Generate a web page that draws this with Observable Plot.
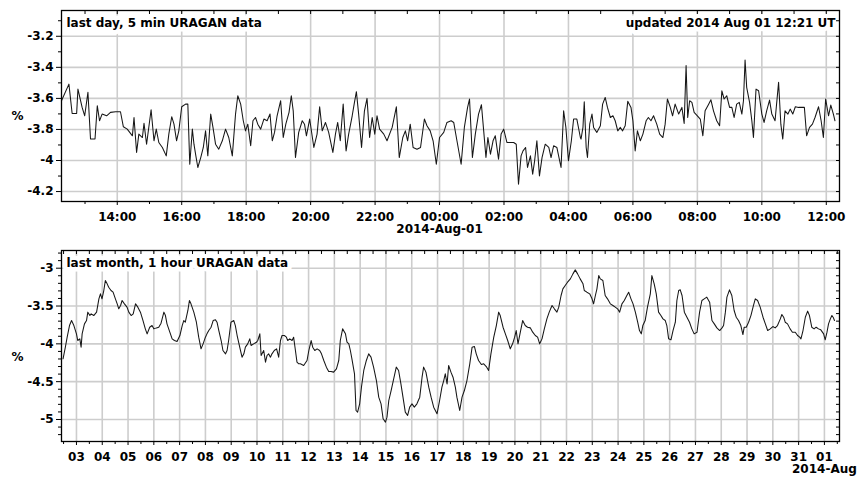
<!DOCTYPE html>
<html><head><meta charset="utf-8">
<script src="https://cdn.jsdelivr.net/npm/d3@7"></script>
<script src="https://cdn.jsdelivr.net/npm/@observablehq/plot@0.6"></script>
<style>
html,body{margin:0;padding:0;background:#fff;}
#chart{width:859px;height:477px;position:relative;background:#fff;}
#chart svg{display:block;overflow:visible;}
</style></head><body><div id="chart"></div>
<script>
// ---- data: last day, 5 min (hours after 2014-07-31 12:00 UT, value %) ----
const dayTitle = "last day, 5 min URAGAN data";
const updatedText = "updated 2014 Aug 01 12:21 UT";
const daySeries = [
[0.27,-3.615],[0.50,-3.508],[0.60,-3.697],[0.74,-3.697],[0.78,-3.540],[0.91,-3.658],[0.99,-3.712],[1.09,-3.561],[1.17,-3.862],[1.31,-3.862],
[1.38,-3.647],[1.45,-3.744],[1.53,-3.701],[1.67,-3.712],[1.79,-3.690],[1.95,-3.686],[2.10,-3.686],[2.19,-3.783],[2.31,-3.798],[2.47,-3.841],
[2.52,-3.723],[2.60,-3.948],[2.67,-3.830],[2.78,-3.852],[2.83,-3.761],[2.91,-3.895],[3.05,-3.673],[3.14,-3.873],[3.21,-3.798],[3.29,-3.884],
[3.40,-3.916],[3.52,-3.970],[3.60,-3.830],[3.69,-3.718],[3.76,-3.766],[3.84,-3.873],[3.91,-3.809],[4.00,-3.654],[4.12,-3.637],[4.19,-3.637],
[4.25,-4.024],[4.33,-3.798],[4.38,-3.895],[4.43,-3.959],[4.50,-4.045],[4.59,-3.981],[4.67,-3.916],[4.74,-3.809],[4.81,-3.970],[4.90,-3.701],
[4.97,-3.787],[5.05,-3.895],[5.15,-3.927],[5.26,-3.873],[5.36,-3.798],[5.46,-3.852],[5.57,-3.970],[5.67,-3.701],[5.74,-3.583],[5.83,-3.637],
[5.91,-3.744],[5.98,-3.809],[6.05,-3.766],[6.14,-3.905],[6.21,-3.744],[6.29,-3.723],[6.36,-3.766],[6.45,-3.798],[6.55,-3.733],[6.65,-3.744],
[6.74,-3.701],[6.81,-3.873],[6.88,-3.819],[6.96,-3.712],[7.07,-3.615],[7.15,-3.852],[7.23,-3.766],[7.33,-3.690],[7.40,-3.583],[7.46,-3.680],
[7.53,-3.981],
[7.63,-3.819],[7.74,-3.744],[7.81,-3.766],[7.87,-3.841],[7.97,-3.733],[8.10,-3.916],[8.20,-3.830],[8.28,-3.654],[8.36,-3.809],[8.46,-3.755],
[8.56,-3.819],[8.69,-3.948],[8.77,-3.830],[8.84,-3.755],[8.92,-3.873],[9.01,-3.637],[9.10,-3.938],[9.18,-3.830],[9.29,-3.712],[9.36,-3.626],
[9.42,-3.557],[9.49,-3.701],[9.58,-3.916],[9.67,-3.680],[9.75,-3.600],[9.83,-3.852],[9.91,-3.723],[9.99,-3.830],[10.06,-3.712],[10.14,-3.798],
[10.27,-3.830],[10.37,-3.873],[10.53,-3.787],[10.66,-3.654],[10.75,-3.981],[10.86,-3.852],[10.94,-3.809],[11.01,-3.873],[11.09,-3.766],[11.18,-3.916],
[11.30,-3.927],[11.41,-3.916],[11.53,-3.733],[11.61,-3.776],[11.71,-3.809],[11.80,-3.873],[11.90,-4.024],[12.00,-3.852],[12.13,-3.819],[12.23,-3.755],
[12.36,-3.744],[12.44,-3.755],[12.54,-3.873],[12.67,-4.024],[12.77,-3.787],[12.87,-3.658],[12.93,-3.604],[13.02,-3.981],[13.11,-3.830],[13.21,-3.701],
[13.30,-3.641],[13.37,-3.809],[13.44,-3.981],[13.50,-3.852],[13.58,-3.959],[13.66,-3.873],[13.73,-3.841],[13.83,-3.991],[13.91,-3.830],[13.99,-3.798],
[14.09,-3.884],[14.30,-3.884],[14.38,-3.895],[14.45,-4.153],[14.53,-3.970],[14.59,-3.938],[14.67,-3.916],[14.73,-4.045],[14.82,-3.970],[14.89,-4.088],
[14.95,-4.002],[15.02,-3.873],[15.10,-4.099],[15.18,-3.981],[15.28,-3.895],[15.39,-3.916],[15.46,-3.981],[15.54,-3.905],[15.64,-3.916],[15.77,-4.045],
[15.85,-3.680],[15.92,-3.787],[16.00,-4.002],[16.09,-3.873],[16.16,-3.733],[16.26,-3.733],[16.37,-3.852],
[16.39,-3.862],[16.45,-3.787],[16.49,-3.622],[16.55,-3.916],[16.59,-3.981],[16.66,-3.766],[16.73,-3.701],[16.78,-3.787],[16.88,-3.819],[16.99,-3.776],
[17.06,-3.637],[17.14,-3.594],[17.21,-3.658],[17.30,-3.723],[17.38,-3.712],[17.45,-3.744],[17.53,-3.809],[17.61,-3.787],[17.68,-3.809],[17.76,-3.776],
[17.84,-3.619],[17.94,-3.658],[18.00,-3.744],[18.07,-3.938],[18.14,-3.809],[18.23,-3.873],[18.31,-3.830],[18.41,-3.744],[18.48,-3.723],[18.56,-3.744],
[18.64,-3.712],[18.74,-3.766],[18.83,-3.830],[18.93,-3.852],[19.00,-3.766],[19.07,-3.604],[19.16,-3.658],[19.23,-3.712],[19.31,-3.637],[19.42,-3.701],
[19.52,-3.658],[19.59,-3.761],[19.65,-3.389],[19.70,-3.723],[19.76,-3.615],[19.83,-3.626],[19.90,-3.690],[20.00,-3.712],[20.09,-3.733],[20.17,-3.841],
[20.24,-3.680],[20.35,-3.637],[20.42,-3.609],[20.50,-3.680],[20.60,-3.744],[20.69,-3.776],[20.76,-3.551],[20.83,-3.604],[20.91,-3.583],[21.00,-3.658],
[21.07,-3.658],[21.14,-3.723],[21.22,-3.637],[21.30,-3.626],[21.38,-3.701],[21.43,-3.615],[21.48,-3.353],[21.53,-3.529],[21.62,-3.626],[21.69,-3.744],
[21.74,-3.852],[21.82,-3.540],[21.90,-3.551],[22.00,-3.701],[22.07,-3.755],[22.15,-3.680],[22.24,-3.611],[22.31,-3.701],[22.41,-3.744],[22.52,-3.497],
[22.59,-3.766],[22.65,-3.862],[22.72,-3.680],[22.81,-3.701],[22.88,-3.669],[22.96,-3.701],[23.04,-3.654],[23.14,-3.658],[23.32,-3.658],[23.39,-3.841],
[23.48,-3.787],[23.57,-3.766],[23.65,-3.723],[23.76,-3.654],[23.84,-3.744],[23.91,-3.852],[23.98,-3.604],[24.07,-3.712],[24.14,-3.643],[24.22,-3.701],
[24.27,-3.744]
];
const dayMajorHours = [2,4,6,8,10,12,14,16,18,20,22,24];        // 14:00 ... 12:00
const dayMinorHours = [1,3,5,7,9,11,13,15,17,19,21,23];
const dayYMajor = [-3.2,-3.4,-3.6,-3.8,-4,-4.2];
const dayYMinor = [-3.1,-3.3,-3.5,-3.7,-3.9,-4.1];
const dayDateLabel = "2014-Aug-01";

// ---- data: last month, 1 hour (day of July, >31 = August; value %) ----
const monthTitle = "last month, 1 hour URAGAN data";
const monthSeries = [
[2.48,-4.198],[2.57,-4.044],[2.64,-3.912],[2.73,-3.758],[2.81,-3.692],[2.90,-3.758],[3.00,-3.868],[3.05,-3.956],[3.13,-3.934],[3.18,-4.044],
[3.22,-3.868],[3.31,-3.736],[3.39,-3.692],[3.44,-3.581],[3.52,-3.626],[3.57,-3.604],[3.67,-3.626],[3.78,-3.581],[3.87,-3.405],[3.93,-3.339],
[3.99,-3.405],[4.06,-3.295],[4.12,-3.163],[4.19,-3.207],[4.25,-3.251],[4.34,-3.295],[4.42,-3.317],[4.51,-3.405],[4.58,-3.471],[4.64,-3.537],
[4.71,-3.493],[4.77,-3.427],[4.86,-3.471],[4.96,-3.515],[5.03,-3.581],[5.12,-3.626],[5.20,-3.604],[5.29,-3.471],[5.38,-3.515],[5.48,-3.581],
[5.58,-3.692],[5.67,-3.802],[5.74,-3.868],[5.84,-3.780],[5.93,-3.758],[6.00,-3.802],[6.10,-3.789],[6.19,-3.780],[6.28,-3.727],[6.39,-3.581],
[6.45,-3.626],[6.51,-3.736],[6.62,-3.846],[6.71,-3.934],[6.80,-3.956],[6.90,-3.969],[7.01,-3.890],[7.10,-3.758],[7.16,-3.692],[7.22,-3.714],
[7.32,-3.559],[7.38,-3.427],[7.44,-3.471],[7.55,-3.581],[7.65,-3.714],[7.74,-3.912],[7.83,-4.066],[7.91,-4.000],[8.00,-3.912],[8.06,-3.868],
[8.13,-3.824],[8.22,-3.780],[8.30,-3.692],[8.39,-3.683],[8.45,-3.714],[8.52,-3.824],[8.61,-3.956],[8.68,-4.088],[8.78,-4.132],[8.84,-4.088],
[8.90,-3.956],[8.99,-3.714],[9.10,-3.692],[9.16,-3.758],[9.23,-3.890],[9.33,-4.044],[9.42,-4.176],[9.49,-4.132],[9.55,-4.044],[9.64,-4.000],
[9.72,-3.934],[9.77,-4.022],[9.87,-4.000],[9.98,-3.978],[10.03,-3.956],[10.11,-3.868],[10.16,-4.154],[10.26,-4.088],[10.33,-4.242],[10.39,-4.154],
[10.45,-4.132],[10.52,-4.176],[10.58,-4.132],[10.67,-4.088],[10.76,-4.066],[10.84,-4.176],[10.91,-3.956],[10.97,-3.890],[11.06,-3.890],[11.14,-3.912],
[11.19,-3.956],[11.27,-3.934],[11.36,-3.956],[11.42,-3.912],[11.49,-4.088],[11.55,-4.242],[11.62,-4.264],
[11.68,-4.264],[11.81,-4.286],[11.94,-4.220],[12.01,-4.088],[12.10,-3.956],[12.16,-4.044],[12.24,-4.088],[12.33,-4.066],[12.43,-4.088],[12.50,-4.132],
[12.59,-4.220],[12.69,-4.308],[12.78,-4.366],[12.87,-4.366],[12.97,-4.374],[13.08,-4.330],[13.17,-4.220],[13.23,-3.956],[13.32,-3.802],[13.43,-3.868],
[13.49,-3.978],[13.56,-4.000],[13.62,-4.088],[13.68,-4.198],[13.78,-4.396],[13.84,-4.881],[13.90,-4.903],[13.98,-4.793],[14.05,-4.573],[14.14,-4.352],
[14.24,-4.220],[14.33,-4.132],[14.42,-4.176],[14.52,-4.308],[14.63,-4.485],[14.72,-4.705],[14.81,-4.793],[14.89,-4.991],[14.98,-5.035],[15.04,-4.969],
[15.11,-4.749],[15.20,-4.617],[15.30,-4.463],[15.40,-4.308],[15.49,-4.352],[15.58,-4.529],[15.66,-4.705],[15.75,-4.903],[15.84,-4.947],[15.92,-4.837],
[16.01,-4.793],[16.10,-4.837],[16.20,-4.793],[16.31,-4.705],[16.40,-4.441],[16.46,-4.308],[16.55,-4.374],[16.66,-4.573],[16.75,-4.705],[16.85,-4.837],
[16.98,-4.925],[17.08,-4.749],[17.17,-4.573],[17.24,-4.485],[17.30,-4.396],[17.37,-4.529],[17.43,-4.286],[17.52,-4.374],[17.60,-4.441],[17.69,-4.573],
[17.75,-4.705],[17.86,-4.881],[17.95,-4.705],[18.04,-4.617],[18.14,-4.485],[18.25,-4.264],[18.34,-4.044],[18.43,-4.035],[18.50,-4.132],[18.59,-4.220],
[18.70,-4.273],[18.79,-4.264],[18.89,-4.300],[18.98,-4.352],[19.07,-4.132],[19.18,-3.912],[19.28,-3.758],[19.37,-3.581],[19.43,-3.626],[19.54,-3.780],
[19.63,-3.868],[19.72,-3.956],[19.82,-4.066],[19.91,-4.000],[19.99,-3.912],[20.05,-3.824],[20.12,-4.000],[20.21,-3.846],[20.30,-3.692],[20.40,-3.758],
[20.49,-3.780],[20.60,-3.789],[20.69,-3.846],[20.79,-3.890],[20.88,-3.912],[20.96,-4.000],[21.05,-3.934],[21.14,-3.802],[21.24,-3.670],[21.33,-3.581],
[21.44,-3.493],[21.53,-3.537],[21.63,-3.581],[21.70,-3.515],[21.79,-3.361],[21.86,-3.273],[21.95,-3.229],[22.04,-3.185],[22.15,-3.141],[22.25,-3.075],
[22.34,-3.022],[22.43,-3.075],[22.53,-3.141],
[22.64,-3.207],[22.69,-3.295],[22.79,-3.317],[22.90,-3.339],[22.99,-3.405],[23.05,-3.471],[23.12,-3.361],[23.18,-3.273],[23.25,-3.097],[23.31,-3.141],
[23.41,-3.163],[23.50,-3.361],[23.59,-3.405],[23.70,-3.471],[23.80,-3.493],[23.89,-3.515],[23.98,-3.537],[24.06,-3.581],[24.15,-3.471],[24.24,-3.427],
[24.34,-3.361],[24.41,-3.317],[24.50,-3.405],[24.58,-3.471],[24.67,-3.581],[24.76,-3.714],[24.83,-3.824],[24.90,-3.868],[24.96,-3.758],[25.05,-3.692],
[25.14,-3.515],[25.25,-3.339],[25.31,-3.097],[25.40,-3.207],[25.48,-3.339],[25.57,-3.581],[25.66,-3.626],[25.74,-3.670],[25.83,-3.692],[25.89,-3.758],
[25.96,-3.934],[26.05,-3.947],[26.13,-3.824],[26.22,-3.714],[26.28,-3.427],[26.35,-3.295],[26.41,-3.286],[26.48,-3.361],[26.57,-3.581],[26.67,-3.648],
[26.77,-3.714],[26.86,-3.802],[26.95,-3.868],[27.06,-3.846],[27.16,-3.581],[27.25,-3.427],[27.34,-3.405],[27.44,-3.383],[27.55,-3.449],[27.64,-3.692],
[27.73,-3.736],[27.83,-3.789],[27.94,-3.824],[28.03,-3.789],[28.09,-3.758],[28.16,-3.581],[28.22,-3.383],[28.32,-3.286],[28.41,-3.361],[28.50,-3.559],
[28.58,-3.648],[28.67,-3.692],[28.76,-3.758],[28.84,-3.877],[28.89,-3.780],[28.97,-3.780],[29.06,-3.714],[29.15,-3.626],[29.25,-3.493],[29.32,-3.405],
[29.41,-3.427],[29.51,-3.515],[29.62,-3.648],[29.71,-3.736],[29.80,-3.824],[29.90,-3.802],[30.00,-3.771],[30.09,-3.789],[30.18,-3.758],[30.29,-3.670],
[30.35,-3.612],[30.42,-3.648],[30.48,-3.714],[30.57,-3.736],[30.67,-3.802],[30.76,-3.846],[30.87,-3.846],[30.96,-3.890],[31.04,-3.912],[31.09,-3.934],
[31.17,-3.824],[31.26,-3.648],[31.35,-3.568],[31.42,-3.626],[31.51,-3.780],[31.60,-3.802],[31.68,-3.780],[31.77,-3.802],[31.86,-3.815],[31.97,-3.868],
[32.03,-3.947],[32.10,-3.846],[32.16,-3.736],[32.23,-3.670],[32.29,-3.626],[32.35,-3.656],[32.39,-3.692]
];
const monthMajorDays = [3,4,5,6,7,8,9,10,11,12,13,14,15,16,17,18,19,20,21,22,23,24,25,26,27,28,29,30,31,32]; // 03 ... 01
const monthMinorDays = [2.5,3.5,4.5,5.5,6.5,7.5,8.5,9.5,10.5,11.5,12.5,13.5,14.5,15.5,16.5,17.5,18.5,19.5,20.5,21.5,22.5,23.5,24.5,25.5,26.5,27.5,28.5,29.5,30.5,31.5,32.5];
const monthYMajor = [-3,-3.5,-4,-4.5,-5];
const monthYMinor = [-2.8,-2.9,-3.1,-3.2,-3.3,-3.4,-3.6,-3.7,-3.8,-3.9,-4.1,-4.2,-4.3,-4.4,-4.6,-4.7,-4.8,-4.9,-5.1,-5.2];
const monthDateLabel = "2014-Aug";
const yUnit = "%";

// ---- helpers ----
const dayStart = Date.UTC(2014, 6, 31, 12, 0);
const monthStart = Date.UTC(2014, 6, 1);
const hourToDate = h => new Date(dayStart + h * 3600e3);
const dayToDate = d => new Date(monthStart + (d - 1) * 864e5);
const fmtY = d => String(+(+d).toFixed(1));
const blank = () => "";
const FONT = "'DejaVu Sans', Verdana, sans-serif";
const GRID = {stroke: "#cdcdcd", strokeOpacity: 1, strokeWidth: 1.6};

function panel({data, xDomain, yDomain, xMajor, xMinor, yMajor, yMinor, xFormat, title, title2, dateLabel, dateLabelX, height, marginBottom, unitDy, dateDy}) {
  const xAll = xMajor.concat(xMinor);
  const yAll = yMajor.concat(yMinor);
  const marks = [
    Plot.gridX(xMajor, GRID),
    Plot.gridY(yMajor, GRID),
    Plot.text([title], {frameAnchor: "top-left", dx: 5, dy: 7.5, lineAnchor: "top", textAnchor: "start", fill: "black", stroke: "white", strokeWidth: 9, strokeLinejoin: "round"}),
  ];
  if (title2) marks.push(Plot.text([title2], {frameAnchor: "top-right", dx: -4, dy: 7.5, lineAnchor: "top", textAnchor: "end", fill: "black", stroke: "white", strokeWidth: 9, strokeLinejoin: "round"}));
  marks.push(
    Plot.lineY(data, {x: "t", y: "v", stroke: "#161616", strokeWidth: 1.05}),
    Plot.frame({stroke: "black", strokeWidth: 1.3}),
    Plot.axisX(xMajor, {tickSize: 4, tickPadding: 6.5, tickFormat: xFormat, label: null}),
    Plot.axisX(xMinor, {tickSize: 3, tickFormat: blank, label: null}),
    Plot.axisX(xAll, {anchor: "top", tickSize: 3, dy: 3, tickFormat: blank, label: null}),
    Plot.axisY(yMajor, {tickSize: 5, tickPadding: 3, tickFormat: fmtY, label: null}),
    Plot.axisY(yMinor, {tickSize: 3, tickFormat: blank, label: null}),
    Plot.axisY(yAll, {anchor: "right", tickSize: 4, dx: -4, tickFormat: blank, label: null}),
    Plot.text([yUnit], {frameAnchor: "left", dx: -44, dy: unitDy, textAnchor: "middle", fill: "black"}),
    Plot.text([dateLabel], {x: [dateLabelX], frameAnchor: "bottom", dy: dateDy, textAnchor: "middle", fill: "black"})
  );
  return Plot.plot({
    width: 859, height,
    marginLeft: 61, marginRight: 20, marginTop: 10, marginBottom,
    style: {fontFamily: FONT, fontSize: "12px", fontWeight: "bold", color: "black", background: "white", overflow: "visible"},
    x: {type: "utc", domain: xDomain},
    y: {domain: yDomain},
    marks
  });
}

const dayData = daySeries.map(([h, v]) => ({t: hourToDate(h), v}));
const monthData = monthSeries.map(([d, v]) => ({t: dayToDate(d), v}));

const dayPanel = panel({
  data: dayData,
  xDomain: [hourToDate(0.27), hourToDate(24.41)],
  yDomain: [-4.264, -3.034],
  xMajor: dayMajorHours.map(hourToDate),
  xMinor: dayMinorHours.map(hourToDate),
  yMajor: dayYMajor, yMinor: dayYMinor,
  xFormat: d3.utcFormat("%H:%M"),
  title: dayTitle, title2: updatedText,
  dateLabel: dayDateLabel, dateLabelX: hourToDate(12),
  height: 240, marginBottom: 39, unitDy: 10, dateDy: 31.5
});
const monthPanel = panel({
  data: monthData,
  xDomain: [dayToDate(2.42), dayToDate(32.585)],
  yDomain: [-5.291, -2.766],
  xMajor: monthMajorDays.map(dayToDate),
  xMinor: monthMinorDays.map(dayToDate),
  yMajor: monthYMajor, yMinor: monthYMinor,
  xFormat: d3.utcFormat("%d"),
  title: monthTitle, title2: null,
  dateLabel: monthDateLabel, dateLabelX: dayToDate(32),
  height: 237, marginBottom: 36, unitDy: 11, dateDy: 31.5
});
const host = document.getElementById("chart");
host.appendChild(dayPanel);
host.appendChild(monthPanel);
</script></body></html>
